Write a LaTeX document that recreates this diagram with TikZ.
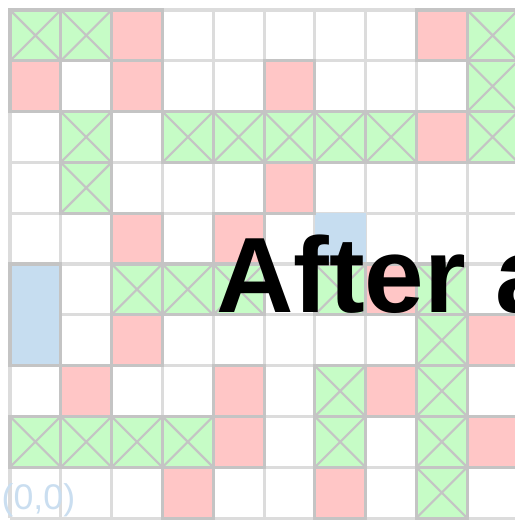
\documentclass[tikz,border=0pt]{standalone}
\usepackage{fontspec}
\setmainfont{Liberation Sans}
\definecolor{Grid}{HTML}{DCDCDC}
\definecolor{Edge}{HTML}{C4C4C4}
\definecolor{Mint}{HTML}{C6FCC6}
\definecolor{Rose}{HTML}{FFC6C6}
\definecolor{Sky}{HTML}{C6DDF0}
\definecolor{Faint}{HTML}{CADEF0}
\newcommand{\crossed}[2]{\fill[Mint] (#1,#2) rectangle ++(1,1);
  \draw[Edge,line width=1.2pt] (#1,#2) -- ++(1,1) (#1,#2+1) -- ++(1,-1);
  \draw[Edge,line width=1.7pt] (#1,#2) rectangle ++(1,1);}
\newcommand{\blocked}[2]{\filldraw[fill=Rose,draw=Edge,line width=1.7pt] (#1,#2) rectangle ++(1,1);}

\begin{document}
\begin{tikzpicture}[x=1cm,y=1cm]
\useasboundingbox (-0.197,-0.039) rectangle (9.94,10.197);
\draw[Grid,line width=1.7pt] (0,0) grid (10,10);
% free cells
\filldraw[fill=Sky,draw=Edge,line width=1.7pt] (0,3) rectangle (1,5);
\fill[Sky] (6,5) rectangle (7,6);
% walls
\foreach \x/\y in {2/9,8/9,0/8,2/8,5/8,8/7,5/6,2/5,4/5,7/4,2/3,9/3,1/2,4/2,7/2,4/1,9/1,3/0,6/0}{\blocked{\x}{\y}}
% visited
\foreach \x/\y in {0/9,1/9,9/9,9/8,1/7,3/7,4/7,5/7,6/7,7/7,9/7,1/6,2/4,3/4,4/4,6/4,8/4,8/3,6/2,8/2,0/1,1/1,2/1,3/1,6/1,8/1,8/0}{\crossed{\x}{\y}}
\node[anchor=base west,inner sep=0pt,text=Faint,font=\fontsize{20}{20}\selectfont] (origin) at (-0.17,0.16) {(0,0)};
\node[anchor=base west,inner sep=0pt,font=\fontsize{60}{60}\selectfont\bfseries] (title) at (4.05,4.05) {After a};
\end{tikzpicture}
\end{document}
